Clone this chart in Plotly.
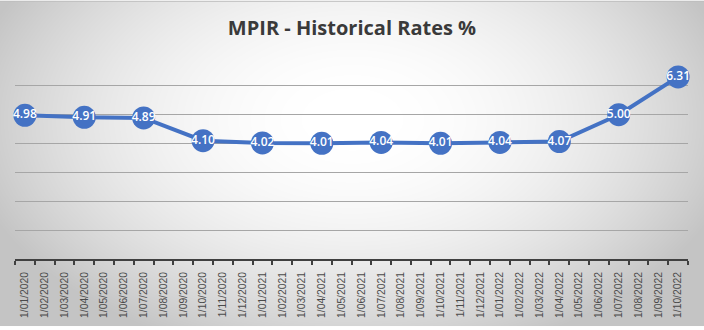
import base64, struct, zlib
import numpy as np
import plotly.graph_objects as go

# ---- data ----
months = [f"1/{m:02d}/{y}" for y in (2020, 2021, 2022) for m in range(1, 13)][:34]
rate_dates = ["1/01/2020", "1/04/2020", "1/07/2020", "1/10/2020",
              "1/01/2021", "1/04/2021", "1/07/2021", "1/10/2021",
              "1/01/2022", "1/04/2022", "1/07/2022", "1/10/2022"]
rates = [4.98, 4.91, 4.89, 4.10, 4.02, 4.01, 4.04, 4.01, 4.04, 4.07, 5.00, 6.31]
title_text = "MPIR - Historical Rates %"

W, H = 704, 330
L, R, T, B = 15, 16, 57, 68


def gradient_png(w, h):
    xs = (np.arange(w) - w / 2) / (w / 2)
    ys = (np.arange(h) - 120.0)
    X, Y = np.meshgrid(xs, ys)
    v = 256 - 48 * X ** 2 - (14 / 14400.0) * Y ** 2
    v = np.clip(v, 196, 255).astype(np.uint8)
    raw = b"".join(b"\x00" + v[i].tobytes() for i in range(h))

    def chunk(tag, data):
        c = struct.pack(">I", len(data)) + tag + data
        return c + struct.pack(">I", zlib.crc32(tag + data) & 0xffffffff)

    png = b"\x89PNG\r\n\x1a\n"
    png += chunk(b"IHDR", struct.pack(">IIBBBBB", w, h, 8, 0, 0, 0, 0))
    png += chunk(b"IDAT", zlib.compress(raw, 9))
    png += chunk(b"IEND", b"")
    return "data:image/png;base64," + base64.b64encode(png).decode()


pw, ph = W - L - R, H - T - B

fig = go.Figure()
fig.add_trace(go.Scatter(
    x=rate_dates, y=rates,
    mode="lines+markers+text",
    line=dict(color="#4472C4", width=4),
    marker=dict(color="#4472C4", size=23),
    text=[f"{v:.2f}" for v in rates],
    textposition="middle center",
    textfont=dict(color="white", size=12, family="Open Sans", weight=600),
    cliponaxis=False,
    hoverinfo="skip",
))

fig.update_layout(
    width=W, height=H,
    margin=dict(l=L, r=R, t=T, b=B),
    paper_bgcolor="rgba(0,0,0,0)",
    plot_bgcolor="rgba(0,0,0,0)",
    showlegend=False,
    title=dict(text=title_text, x=0.5, xref="container", xanchor="center",
               y=1 - 28 / H, yref="container", yanchor="middle",
               font=dict(family="Open Sans", size=20, color="#3a3a3a", weight="bold")),
    xaxis=dict(type="category", categoryorder="array", categoryarray=months,
               tickmode="array", tickvals=months, ticktext=months,
               range=[-0.5, len(months) - 0.5],
               tickangle=-90, tickfont=dict(family="Liberation Sans", size=10.3, color="#4a4a4a"),
               ticks="outside", ticklen=4, tickwidth=1.5, tickcolor="#404040",
               tickson="boundaries", ticklabelstandoff=7,
               showline=True, linecolor="#404040", linewidth=2,
               showgrid=False, zeroline=False, fixedrange=True),
    yaxis=dict(range=[0, 7], dtick=1, tick0=0, showticklabels=False,
               showgrid=True, gridcolor="#a6a6a6", gridwidth=1,
               zeroline=False, showline=False, ticks=""),
    images=[dict(source=gradient_png(W, H), xref="paper", yref="paper",
                 x=-L / pw, y=1 + T / ph, sizex=W / pw, sizey=H / ph,
                 xanchor="left", yanchor="top", sizing="stretch", layer="below")],
    shapes=[dict(type="line", xref="paper", yref="paper",
                 x0=-L / pw, x1=1 + R / pw, y0=1 + (T - 0.5) / ph, y1=1 + (T - 0.5) / ph,
                 line=dict(color="#bfbfbf", width=1))],
)

fig.write_html("out.html")
